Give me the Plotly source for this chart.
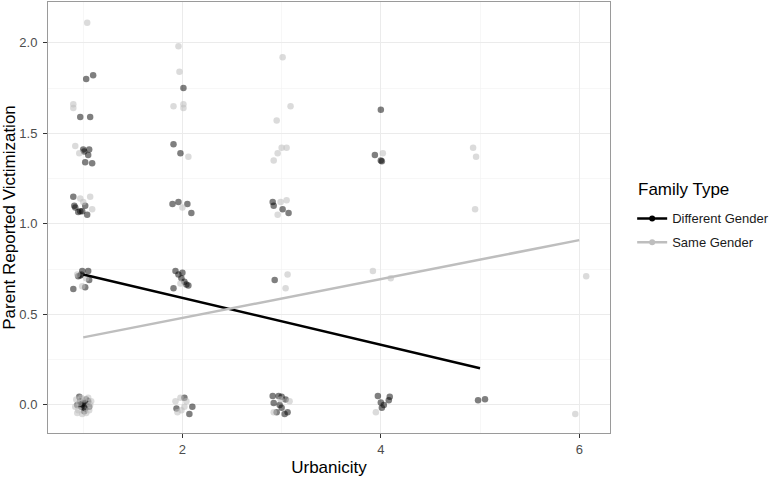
import plotly.graph_objects as go

# jittered observations, Different Gender
diff_x = [1.03, 1.10, 0.97, 1.07,
          1.00, 1.01, 1.06, 1.05, 1.02, 1.09,
          0.90, 0.91, 0.92, 1.02, 0.97, 0.99, 1.04, 0.95,
          0.99, 1.05, 0.95, 0.97, 1.06, 0.90, 1.02, 0.98,
          0.96, 1.00, 1.00, 1.03, 0.98, 1.02, 1.05, 0.94, 1.01, 0.99, 1.06, 0.97,
          2.01, 1.91, 1.98,
          1.90, 1.96, 2.05, 2.09,
          1.93, 1.96, 2.00, 1.99, 2.02, 2.06, 1.91, 2.04,
          2.02, 1.94, 2.10, 2.07,
          2.91, 2.92, 3.01, 3.07,
          2.93,
          2.91, 2.97, 3.00, 3.04, 2.92, 3.00, 2.95, 3.06, 3.03, 2.98,
          4.00, 3.94, 4.00, 4.01,
          3.97, 4.09, 4.00, 4.08, 4.01, 4.03,
          4.98, 5.05]
diff_y = [1.80, 1.82, 1.59, 1.59,
          1.41, 1.40, 1.41, 1.38, 1.34, 1.335,
          1.15, 1.10, 1.09, 1.10, 1.07, 1.07, 1.05, 1.065,
          0.74, 0.74, 0.71, 0.715, 0.69, 0.64, 0.65, 0.72,
          0.045, 0.01, 0.0, 0.03, -0.01, -0.02, 0.02, 0.0, -0.035, 0.005, -0.01, 0.02,
          1.75, 1.44, 1.39,
          1.11, 1.12, 1.11, 1.06,
          0.74, 0.72, 0.73, 0.70, 0.68, 0.66, 0.645, 0.665,
          0.04, -0.02, -0.01, -0.05,
          1.12, 1.10, 1.08, 1.06,
          0.69,
          0.05, 0.05, 0.045, 0.03, 0.01, -0.015, -0.04, -0.04, -0.05, 0.0,
          1.63, 1.38, 1.35, 1.345,
          0.05, 0.045, 0.013, 0.026, -0.015, 0.0,
          0.026, 0.031]

# jittered observations, Same Gender
same_x = [1.04, 0.90, 0.90, 0.92, 0.96, 0.97, 1.07, 1.09, 1.00, 0.94, 0.99, 1.03,
          0.93, 0.95, 0.98, 1.05, 1.07, 0.92, 1.03, 0.99, 0.96, 1.06, 1.01, 0.94, 1.08,
          1.96, 1.97, 1.91, 2.01, 2.01, 2.06, 2.00, 1.98,
          1.98, 1.93, 2.04, 1.99, 1.95, 2.02,
          3.01, 3.09, 2.95, 3.05, 3.00, 2.96, 2.92, 2.99, 3.05, 2.96, 3.06, 3.04,
          2.92, 3.08, 2.99,
          4.02, 3.92, 4.10, 3.95,
          4.93, 4.96, 4.95,
          6.07, 5.96]
same_y = [2.11, 1.66, 1.64, 1.43, 1.39, 1.14, 1.15, 1.08, 1.12, 0.72, 0.655, 0.70,
          0.03, -0.03, 0.04, 0.04, 0.0, -0.01, -0.045, -0.05, 0.01, -0.03, 0.03, -0.045, 0.02,
          1.98, 1.84, 1.65, 1.66, 1.64, 1.37, 1.09, 0.67,
          0.04, 0.02, 0.02, -0.03, -0.04, -0.01,
          1.92, 1.65, 1.57, 1.42, 1.42, 1.39, 1.35, 1.12, 1.13, 1.05, 0.72, 0.645,
          -0.04, 0.02, 0.03,
          1.39, 0.74, 0.70, -0.04,
          1.42, 1.37, 1.08,
          0.71, -0.05]

# fitted regression lines (lm) per family type
diff_fit_x = [1, 5]
diff_fit_y = [0.72, 0.203]
same_fit_x = [1, 6]
same_fit_y = [0.373, 0.91]

groups = ['Different Gender', 'Same Gender']
colors = ['black', '#bebebe']

fig = go.Figure()

fig.add_trace(go.Scatter(x=diff_x, y=diff_y, mode='markers', showlegend=False, hoverinfo='skip',
                         marker=dict(color=colors[0], size=6.5, opacity=0.5, line=dict(width=0))))
fig.add_trace(go.Scatter(x=same_x, y=same_y, mode='markers', showlegend=False, hoverinfo='skip',
                         marker=dict(color=colors[1], size=6.5, opacity=0.55, line=dict(width=0))))

fig.add_trace(go.Scatter(x=diff_fit_x, y=diff_fit_y, mode='lines', showlegend=False, hoverinfo='skip',
                         line=dict(color=colors[0], width=2.5)))
fig.add_trace(go.Scatter(x=same_fit_x, y=same_fit_y, mode='lines', showlegend=False, hoverinfo='skip',
                         line=dict(color=colors[1], width=2.5)))

# legend keys (line + point, like ggplot)
for i, name in enumerate(groups):
    fig.add_trace(go.Scatter(x=[None], y=[None], mode='lines+markers', name=name,
                             legendgroup=name,
                             line=dict(color=colors[i], width=2.5),
                             marker=dict(color=colors[i], size=6)))

# legend title as annotation so the gap to the keys matches ggplot
fig.add_annotation(text='Family Type', xref='paper', yref='paper',
                   x=1.046, y=0.566, xanchor='left', yanchor='middle',
                   showarrow=False, font=dict(size=17, color='black'))

fig.update_layout(
    width=770,
    height=477,
    margin=dict(l=48, r=160, t=2, b=44, autoexpand=False),
    plot_bgcolor='white',
    paper_bgcolor='white',
    hovermode=False,
    font=dict(family='Liberation Sans, Arial, sans-serif', color='black'),
    legend=dict(
        font=dict(size=13, color='#1a1a1a'),
        xref='container', x=0.821, xanchor='left',
        y=0.47, yanchor='middle',
        tracegroupgap=4,
        itemwidth=30,
    ),
    xaxis=dict(
        range=[0.645, 6.31],
        tickmode='array', tickvals=[2, 4, 6], ticktext=['2', '4', '6'],
        ticks='outside', ticklen=4, tickcolor='#333333',
        tickfont=dict(size=13, color='#4d4d4d'),
        showgrid=True, gridcolor='#ebebeb', gridwidth=1,
        minor=dict(tickvals=[1, 3, 5], showgrid=True, gridcolor='#f2f2f2', gridwidth=0.6, ticks=''),
        zeroline=False,
        showline=True, linecolor='#9a9a9a', linewidth=1, mirror=True,
        title=dict(text='Urbanicity', font=dict(size=17), standoff=6),
        automargin=False,
    ),
    yaxis=dict(
        range=[-0.155, 2.225],
        tickmode='array', tickvals=[0, 0.5, 1, 1.5, 2], ticktext=['0.0', '0.5', '1.0', '1.5', '2.0'],
        ticks='outside', ticklen=4, tickcolor='#333333',
        ticklabelstandoff=3,
        tickfont=dict(size=13, color='#4d4d4d'),
        showgrid=True, gridcolor='#ebebeb', gridwidth=1,
        minor=dict(tickvals=[0.25, 0.75, 1.25, 1.75], showgrid=True, gridcolor='#f2f2f2', gridwidth=0.6, ticks=''),
        zeroline=False,
        showline=True, linecolor='#9a9a9a', linewidth=1, mirror=True,
        title=dict(text='Parent Reported Victimization', font=dict(size=17), standoff=1),
        automargin=False,
    ),
)

# drop the browser's default 8px body margin so the figure fills the window
fig.write_html("out.html", config={'displayModeBar': False, 'staticPlot': True},
               post_script="document.body.style.margin='0';")
